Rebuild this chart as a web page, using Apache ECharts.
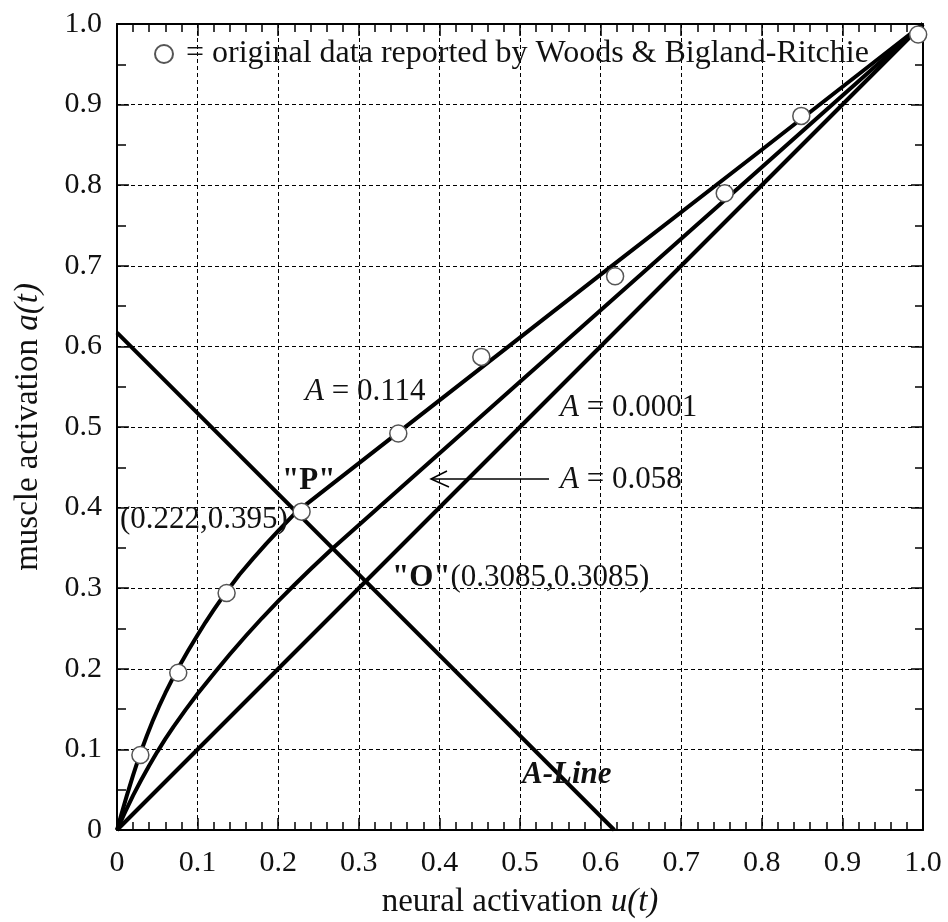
<!DOCTYPE html>
<html>
<head>
<meta charset="utf-8">
<script src="https://cdn.jsdelivr.net/npm/echarts@6/dist/echarts.min.js"></script>
<style>
  html, body { margin: 0; padding: 0; background: #fff; }
  #chart { width: 948px; height: 922px; }
</style>
</head>
<body>
<div id="chart"></div>
<script>
// values

// A = 0.114 (upper curve, kink at "P")
const uHigh = [0, 0.005, 0.012, 0.02, 0.0285, 0.037, 0.045, 0.052, 0.06, 0.068, 0.076, 0.088, 0.1, 0.11, 0.12, 0.136, 0.152, 0.169, 0.185, 0.2, 0.222, 0.4, 0.6, 0.8, 1.0];
const aHigh = [0, 0.018, 0.042, 0.068, 0.094, 0.117, 0.137, 0.153, 0.17, 0.186, 0.201, 0.222, 0.242, 0.258, 0.273, 0.296, 0.317, 0.337, 0.355, 0.371, 0.394, 0.533, 0.689, 0.844, 1.0];

// A = 0.058 (middle curve)
const uMid = [0, 0.01, 0.02, 0.03, 0.04, 0.05, 0.06, 0.07, 0.085, 0.1, 0.12, 0.14, 0.16, 0.18, 0.2, 0.22, 0.24, 0.267, 0.5, 0.75, 1.0];
const aMid = [0, 0.022, 0.043, 0.062, 0.08, 0.097, 0.113, 0.128, 0.149, 0.169, 0.194, 0.218, 0.241, 0.263, 0.284, 0.304, 0.3235, 0.349, 0.556, 0.778, 1.0];

// A = 0.0001 (straight)
const uLow = [0, 1.0];
const aLow = [0, 1.0];

// A-Line
const uALine = [0, 0.617];
const aALine = [0.617, 0];

// Woods & Bigland-Ritchie data
const uData = [0.029, 0.076, 0.136, 0.229, 0.349, 0.452, 0.618, 0.754, 0.849, 0.994];
const aData = [0.093, 0.195, 0.294, 0.395, 0.492, 0.587, 0.687, 0.79, 0.886, 0.987];

const zip = (xs, ys) => xs.map((x, i) => [x, ys[i]]);

const FONT = 'Liberation Serif';
const INK = '#111';
const legendName = '= original data reported by Woods & Bigland-Ritchie';

const fmt = v => (Math.abs(v) < 1e-9 ? '0' : v.toFixed(1));

const frameAxis = {
  min: 0, max: 1, interval: 0.1,
  axisLine: { show: true, onZero: false, lineStyle: { color: '#000', width: 2 } },
  axisTick: { show: true, inside: true, length: 12, lineStyle: { color: '#000', width: 1.5 } },
  axisLabel: { show: false },
  splitLine: { show: false }
};

const lineSeries = (name, xs, ys) => ({
  name, type: 'line', data: zip(xs, ys),
  showSymbol: false, symbol: 'none', silent: true,
  lineStyle: { color: '#000', width: 4, join: 'round' },
  z: 2
});

const chart = echarts.init(document.getElementById('chart'));

chart.setOption({
  backgroundColor: '#fff',
  animation: false,
  grid: { left: 117, right: 25, top: 24, bottom: 92, containLabel: false, outerBoundsMode: 'none' },
  legend: {
    left: 149, top: 33,
    itemWidth: 18, itemHeight: 18, itemGap: 0,
    data: [legendName],
    formatter: n => ' ' + n,
    textStyle: { fontFamily: FONT, fontSize: 32, color: INK }
  },
  xAxis: [
    Object.assign({}, frameAxis, {
      type: 'value', position: 'bottom',
      name: 'neural activation {i|u(t)}',
      nameLocation: 'middle', nameGap: 56,
      nameTextStyle: {
        fontFamily: FONT, fontSize: 33, color: INK,
        rich: { i: { fontFamily: FONT, fontSize: 33, fontStyle: 'italic', color: INK } }
      },
      axisLabel: { show: true, fontFamily: FONT, fontSize: 30, color: INK, margin: 18, formatter: fmt },
      minorTick: { show: true, splitNumber: 5, length: 8, lineStyle: { color: '#000', width: 1.5 } },
      splitLine: { show: true, lineStyle: { color: '#000', width: 1, type: [4, 3] } }
    }),
    Object.assign({}, frameAxis, {
      type: 'value', position: 'top',
      minorTick: { show: true, splitNumber: 5, length: 8, lineStyle: { color: '#000', width: 1.5 } }
    })
  ],
  yAxis: [
    Object.assign({}, frameAxis, {
      type: 'value', position: 'left',
      name: 'muscle activation {i|a(t)}',
      nameLocation: 'middle', nameGap: 72,
      nameTextStyle: {
        fontFamily: FONT, fontSize: 33, color: INK,
        rich: { i: { fontFamily: FONT, fontSize: 33, fontStyle: 'italic', color: INK } }
      },
      axisLabel: { show: true, fontFamily: FONT, fontSize: 30, color: INK, margin: 15, formatter: fmt },
      minorTick: { show: true, splitNumber: 2, length: 9, lineStyle: { color: '#000', width: 1.5 } },
      splitLine: { show: true, lineStyle: { color: '#000', width: 1, type: [4, 3] } }
    }),
    Object.assign({}, frameAxis, {
      type: 'value', position: 'right',
      minorTick: { show: true, splitNumber: 2, length: 8, lineStyle: { color: '#000', width: 1.5 } }
    })
  ],
  series: [
    lineSeries('A = 0.114', uHigh, aHigh),
    lineSeries('A = 0.058', uMid, aMid),
    lineSeries('A = 0.0001', uLow, aLow),
    lineSeries('A-Line', uALine, aALine),
    {
      name: legendName, type: 'scatter', data: zip(uData, aData),
      symbol: 'circle', symbolSize: 17,
      itemStyle: { color: '#fff', borderColor: '#555', borderWidth: 1.5, opacity: 1 },
      z: 5
    }
  ],
  graphic: [
    {
      type: 'text', x: 305, y: 392, z: 10,
      style: {
        text: '{i|A} = 0.114', verticalAlign: 'middle', fill: INK,
        fontFamily: FONT, fontSize: 31,
        rich: { i: { fontFamily: FONT, fontSize: 31, fontStyle: 'italic', fill: INK } }
      }
    },
    {
      type: 'text', x: 560, y: 408, z: 10,
      style: {
        text: '{i|A} = 0.0001', verticalAlign: 'middle', fill: INK,
        fontFamily: FONT, fontSize: 31,
        rich: { i: { fontFamily: FONT, fontSize: 31, fontStyle: 'italic', fill: INK } }
      }
    },
    {
      type: 'text', x: 560, y: 480, z: 10,
      style: {
        text: '{i|A} = 0.058', verticalAlign: 'middle', fill: INK,
        fontFamily: FONT, fontSize: 31,
        rich: { i: { fontFamily: FONT, fontSize: 31, fontStyle: 'italic', fill: INK } }
      }
    },
    {
      type: 'polyline', z: 10,
      shape: { points: [[549, 479], [431, 479]] },
      style: { stroke: '#000', lineWidth: 1.5, fill: null }
    },
    {
      type: 'polyline', z: 10,
      shape: { points: [[447, 471], [431, 479], [449, 487]] },
      style: { stroke: '#000', lineWidth: 1.5, fill: null }
    },
    {
      type: 'text', x: 282, y: 481, z: 10,
      style: { text: '"P"', verticalAlign: 'middle', fill: INK, fontFamily: FONT, fontSize: 31, fontWeight: 'bold' }
    },
    {
      type: 'text', x: 120, y: 520, z: 10,
      style: { text: '(0.222,0.395)', verticalAlign: 'middle', fill: INK, fontFamily: FONT, fontSize: 31 }
    },
    {
      type: 'text', x: 392, y: 578, z: 10,
      style: {
        text: '{b|"O"}(0.3085,0.3085)', verticalAlign: 'middle', fill: INK,
        fontFamily: FONT, fontSize: 31,
        rich: { b: { fontFamily: FONT, fontSize: 31, fontWeight: 'bold', fill: INK } }
      }
    },
    {
      type: 'text', x: 522, y: 775, z: 10,
      style: {
        text: 'A-Line', verticalAlign: 'middle', fill: INK,
        fontFamily: FONT, fontSize: 31, fontWeight: 'bold', fontStyle: 'italic'
      }
    }
  ]
});
</script>
</body>
</html>
